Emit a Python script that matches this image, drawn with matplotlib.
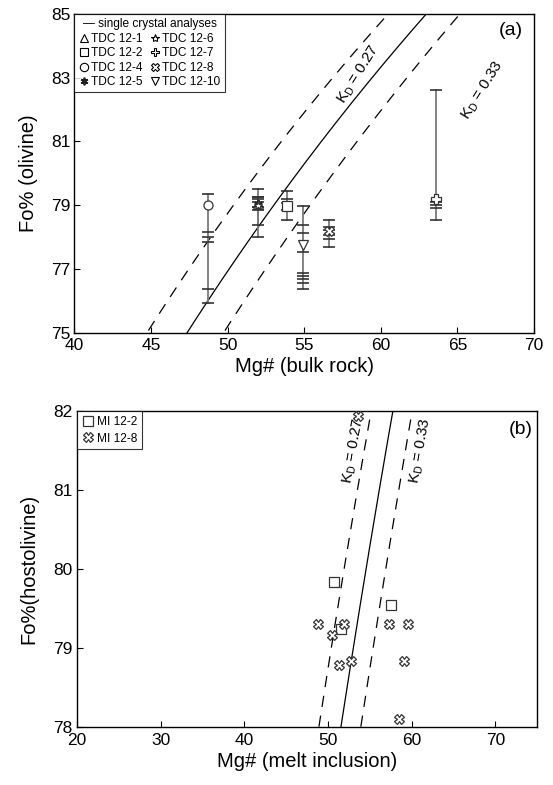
import numpy as np
import matplotlib
matplotlib.use('Agg')
import matplotlib.pyplot as plt
from matplotlib.lines import Line2D

plt.rcParams['font.family'] = ['Liberation Sans', 'DejaVu Sans']
plt.rcParams['mathtext.fontset'] = 'custom'
plt.rcParams['mathtext.rm'] = 'Liberation Sans'
plt.rcParams['mathtext.it'] = 'Liberation Sans'

# ---- panel (a): bulk rock vs olivine ----
names_a = ['TDC 12-1', 'TDC 12-2', 'TDC 12-4', 'TDC 12-5',
           'TDC 12-6', 'TDC 12-7', 'TDC 12-8', 'TDC 12-10']
mg_bulk = [52.0, 53.9, 48.7, 52.0, 52.0, 63.6, 56.6, 54.95]
fo_mean = [79.05, 78.98, 79.0, 79.05, 79.0, 79.2, 78.2, 77.75]
fo_single = [
    [79.26, 78.93],
    [79.45, 79.19, 79.06, 78.85, 78.53],
    [79.35, 78.17, 78.01, 77.85, 76.36, 75.92],
    [79.5, 79.18, 79.11, 78.85, 78.37],
    [79.26, 78.93, 78.01],
    [82.6, 79.1, 79.0, 78.9, 78.53],
    [78.53, 78.32, 78.22, 78.06, 77.94, 77.67],
    [78.98, 78.37, 78.11, 77.54, 76.86, 76.77, 76.68, 76.54, 76.36],
]
markers_a = ['^', 's', 'o', (6, 2, 0), '*', 'P', 'X', 'v']

# ---- panel (b): melt inclusions ----
mi22_mg = [50.7, 57.5, 51.5]
mi22_fo = [79.84, 79.54, 79.24]
mi28_mg = [48.8, 50.5, 51.9, 51.3, 52.7, 57.3, 59.5, 59.1, 58.5, 53.6]
mi28_fo = [79.30, 79.16, 79.30, 78.79, 78.83, 79.30, 79.30, 78.83, 78.10, 81.94]

kd_values = [0.27, 0.30, 0.33]


def kd_curve(kd, fo):
    # Mg# of melt in equilibrium with olivine Fo for a given Kd
    f = fo / 100.0
    r = kd * f / (1 - f)
    return 100 * r / (1 + r)


fig = plt.figure(figsize=(5.53, 7.85), dpi=100)
ax1 = fig.add_axes([0.1344, 0.5764, 0.8313, 0.4057])
ax2 = fig.add_axes([0.1390, 0.0739, 0.8326, 0.4025])

for ax in (ax1, ax2):
    ax.tick_params(direction='in', labelsize=12.5, length=4, width=0.8)
    ax.tick_params(axis='x', pad=4)
    ax.tick_params(axis='y', pad=3)
    for s in ax.spines.values():
        s.set_linewidth(1.0)

dash = (0, (9, 7))

# panel (a)
fo_line = np.linspace(74, 86, 200)
for kd in kd_values:
    ls = '-' if kd == 0.30 else dash
    ax1.plot(kd_curve(kd, fo_line), fo_line, color='black', lw=0.9, ls=ls)

for i in range(len(names_a)):
    vals = fo_single[i]
    ax1.plot([mg_bulk[i], mg_bulk[i]], [min(vals), max(vals)],
             color='#7a7a7a', lw=1.3, zorder=3)
    ax1.plot([mg_bulk[i]] * len(vals), vals, ls='none', marker='_',
             ms=8, mew=1.2, color='#333333', zorder=4)

handles = []
for i in range(len(names_a)):
    m = markers_a[i]
    if m == (6, 2, 0):
        ax1.plot(mg_bulk[i], fo_mean[i], ls='none', marker=m, ms=6,
                 mew=1.4, color='#222222', zorder=5)
        h = Line2D([], [], ls='none', marker=m, ms=5.5, mew=1.3,
                   color='#222222')
    else:
        ax1.plot(mg_bulk[i], fo_mean[i], ls='none', marker=m, ms=6.5,
                 mfc='white', mec='#333333', mew=0.9, zorder=5)
        h = Line2D([], [], ls='none', marker=m, ms=6, mfc='white',
                   mec='black', mew=0.8)
    handles.append(h)

leg = ax1.legend(handles, names_a,
                 ncol=2, loc='upper left', fontsize=8.6,
                 title='\u2014 single crystal analyses', title_fontsize=8.6,
                 frameon=True, fancybox=False, edgecolor='black',
                 borderpad=0.35, handletextpad=0.15, columnspacing=0.6,
                 labelspacing=0.2, handlelength=0.9,
                 borderaxespad=0.0)
leg.get_frame().set_linewidth(0.8)
leg._legend_box.sep = 2

ax1.set_xlim(40, 70)
ax1.set_ylim(75, 85)
ax1.set_xticks(range(40, 71, 5))
ax1.set_yticks(range(75, 86, 2))
ax1.set_xlabel('Mg# (bulk rock)', fontsize=14.5, labelpad=3)
ax1.set_ylabel('Fo% (olivine)', fontsize=14.5, labelpad=9)
ax1.text(0.975, 0.975, '(a)', transform=ax1.transAxes, ha='right',
         va='top', fontsize=14)

# panel (b)
for kd in kd_values:
    ls = '-' if kd == 0.30 else dash
    ax2.plot(kd_curve(kd, fo_line), fo_line, color='black', lw=0.9, ls=ls)

ax2.plot(mi22_mg, mi22_fo, ls='none', marker='s', ms=6.5, mfc='white',
         mec='#333333', mew=0.9, label='MI 12-2', zorder=5)
ax2.plot(mi28_mg, mi28_fo, ls='none', marker='X', ms=7, mfc='white',
         mec='#333333', mew=0.9, label='MI 12-8', zorder=5, clip_on=False)
leg2 = ax2.legend(loc='upper left', fontsize=8.6, frameon=True,
                  fancybox=False, edgecolor='black', borderpad=0.4,
                  handletextpad=0.3, handlelength=1.0, labelspacing=0.4,
                  borderaxespad=0.0)
leg2.get_frame().set_linewidth(0.8)

ax2.set_xlim(20, 75)
ax2.set_ylim(78, 82)
ax2.set_xticks(range(20, 71, 10))
ax2.set_yticks(range(78, 83))
ax2.set_xlabel('Mg# (melt inclusion)', fontsize=14.5, labelpad=3)
ax2.set_ylabel('Fo%(hostolivine)', fontsize=14.5, labelpad=11)
ax2.text(0.99, 0.97, '(b)', transform=ax2.transAxes, ha='right',
         va='top', fontsize=14)


def kd_label(ax, kd, fo, dx, txt, rot):
    x0 = kd_curve(kd, fo)
    ax.text(x0 + dx, fo, txt, rotation=rot, rotation_mode='anchor',
            ha='center', va='center', fontsize=11)


kd_label(ax1, 0.27, 83.1, 1.5, 'K$_{\\mathregular{D}}$ = 0.27', 58)
kd_label(ax1, 0.33, 82.6, 5.6, 'K$_{\\mathregular{D}}$ = 0.33', 58)
kd_label(ax2, 0.27, 81.5, -1.2, 'K$_{\\mathregular{D}}$ = 0.27', 80)
kd_label(ax2, 0.33, 81.5, 1.8, 'K$_{\\mathregular{D}}$ = 0.33', 80)

fig.savefig('out.png', dpi=100)
